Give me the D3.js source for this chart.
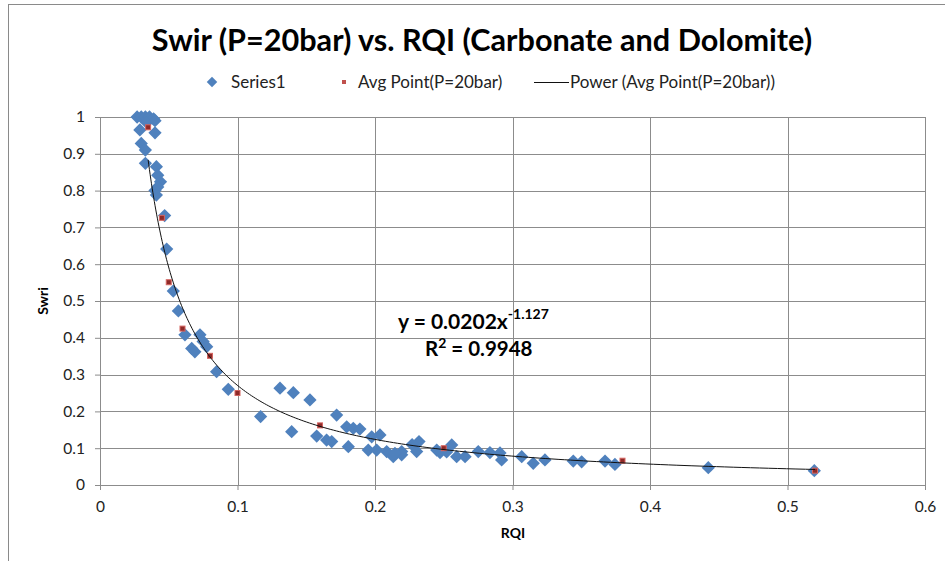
<!DOCTYPE html>
<html>
<head>
<meta charset="utf-8">
<script src="https://cdn.jsdelivr.net/npm/d3@7"></script>
<style>
  body { margin: 0; background: #fff; }
  svg { font-family: Lato, "Open Sans", sans-serif; }
</style>
</head>
<body>
<script>
// data: [RQI, Swri]
var series1 = [
  [0.027, 1.0], [0.030, 1.0], [0.033, 1.0], [0.036, 1.0], [0.039, 0.995],
  [0.034, 0.985], [0.040, 0.99], [0.029, 0.965], [0.040, 0.957], [0.030, 0.928],
  [0.033, 0.91], [0.033, 0.874], [0.041, 0.865], [0.042, 0.842], [0.044, 0.824],
  [0.042, 0.81], [0.040, 0.80], [0.041, 0.788], [0.047, 0.732], [0.0485, 0.641],
  [0.0533, 0.527], [0.057, 0.473], [0.0618, 0.408], [0.0727, 0.408], [0.0667, 0.371],
  [0.069, 0.362], [0.0776, 0.376], [0.075, 0.39], [0.0848, 0.308], [0.0933, 0.26],
  [0.1168, 0.186], [0.1309, 0.263], [0.1406, 0.251], [0.1527, 0.231], [0.1394, 0.145],
  [0.1721, 0.19], [0.1576, 0.133], [0.1648, 0.122], [0.1685, 0.118], [0.1794, 0.158],
  [0.1842, 0.154], [0.189, 0.152], [0.1806, 0.104], [0.1976, 0.131], [0.2036, 0.136],
  [0.1951, 0.095], [0.2012, 0.095], [0.2085, 0.091], [0.2133, 0.077], [0.2194, 0.091],
  [0.2194, 0.082], [0.232, 0.118], [0.227, 0.11], [0.2303, 0.091], [0.2449, 0.095],
  [0.2558, 0.109], [0.2521, 0.09], [0.2594, 0.077], [0.2655, 0.077], [0.2751, 0.091],
  [0.2836, 0.088], [0.2909, 0.087], [0.2921, 0.068], [0.2145, 0.086], [0.2473, 0.088],
  [0.3067, 0.077], [0.3151, 0.059], [0.3236, 0.068], [0.3442, 0.065], [0.3503, 0.063],
  [0.3673, 0.065], [0.3745, 0.056], [0.4424, 0.047], [0.5195, 0.039]
];
var avgPoints = [
  [0.035, 0.972], [0.045, 0.726], [0.05, 0.551], [0.06, 0.425], [0.08, 0.351],
  [0.1, 0.25], [0.16, 0.162], [0.25, 0.1], [0.38, 0.066], [0.52, 0.039]
];
// power trendline coefficients shown in the chart
var fitA = 0.0202, fitB = -1.127;
var xTicks = [0, 0.1, 0.2, 0.3, 0.4, 0.5, 0.6];
var yTicks = [0, 0.1, 0.2, 0.3, 0.4, 0.5, 0.6, 0.7, 0.8, 0.9, 1];
var legendLabels = ['Series1', 'Avg Point(P=20bar)', 'Power (Avg Point(P=20bar))'];

var W = 945, H = 561;
var grid = '#8c8c8c';

var svg = d3.select('body').append('svg')
    .attr('width', W)
    .attr('height', H);

// chart frame
svg.append('rect')
  .attr('x', 8.5).attr('y', 4.5)
  .attr('width', W).attr('height', H)
  .attr('fill', '#fff')
  .attr('stroke', '#8a8a8a');

var x = d3.scaleLinear().domain([0, 0.6]).range([100, 925]);
var y = d3.scaleLinear().domain([0, 1]).range([485, 117]);

// gridlines
svg.append('g').selectAll('line').data(yTicks.slice(1)).enter().append('line')
  .attr('x1', 100).attr('x2', 925)
  .attr('y1', function(d) { return Math.round(y(d)) + 0.5; })
  .attr('y2', function(d) { return Math.round(y(d)) + 0.5; })
  .attr('stroke', grid);
svg.append('g').selectAll('line').data(xTicks.slice(1)).enter().append('line')
  .attr('y1', 117).attr('y2', 485)
  .attr('x1', function(d) { return Math.round(x(d)) + 0.5; })
  .attr('x2', function(d) { return Math.round(x(d)) + 0.5; })
  .attr('stroke', grid);

// axes
var fmt = function(d) { return String(+d.toFixed(1)); };
var xAxis = d3.axisBottom(x).tickValues(xTicks).tickSize(5).tickPadding(11).tickFormat(fmt);
var yAxis = d3.axisLeft(y).tickValues(yTicks).tickSize(5).tickPadding(10).tickFormat(fmt);

var gx = svg.append('g').attr('transform', 'translate(0,485)').call(xAxis);
var gy = svg.append('g').attr('transform', 'translate(100,0)').call(yAxis);
[gx, gy].forEach(function(g) {
  g.selectAll('path,line').attr('stroke', grid);
  g.selectAll('text').attr('font-size', 15.5).attr('fill', '#222')
    .attr('font-family', 'Lato, sans-serif');
});

// Series1 diamonds
var diamond = d3.symbol().type(d3.symbolDiamond2).size(112);
svg.append('g').selectAll('path').data(series1).enter().append('path')
  .attr('d', diamond)
  .attr('transform', function(d) { return 'translate(' + x(d[0]) + ',' + y(d[1]) + ')'; })
  .attr('fill', '#4f81bd');

// average points
svg.append('g').selectAll('rect').data(avgPoints).enter().append('rect')
  .attr('x', function(d) { return x(d[0]) - 2.5; })
  .attr('y', function(d) { return y(d[1]) - 2.5; })
  .attr('width', 5).attr('height', 5)
  .attr('fill', '#8e2a28')
  .attr('stroke', '#d46561')
  .attr('stroke-width', 1);

// power trendline over the avg point range
var xr = d3.extent(avgPoints, function(d) { return d[0]; });
var trend = d3.range(0, 201).map(function(i) {
  var t = xr[0] * Math.pow(xr[1] / xr[0], i / 200);
  return [t, fitA * Math.pow(t, fitB)];
});
svg.append('path')
  .datum(trend)
  .attr('d', d3.line().x(function(d) { return x(d[0]); }).y(function(d) { return y(d[1]); }))
  .attr('fill', 'none')
  .attr('stroke', '#111')
  .attr('stroke-width', 1);

// title
svg.append('text')
  .attr('x', 482).attr('y', 51)
  .attr('text-anchor', 'middle')
  .attr('font-size', 30.6).attr('font-weight', 'bold')
  .text('Swir (P=20bar) vs. RQI (Carbonate and Dolomite)');

// legend
var leg = svg.append('g').attr('font-size', 17).attr('fill', '#222');
leg.append('path').attr('d', d3.symbol().type(d3.symbolDiamond2).size(70))
  .attr('transform', 'translate(212,82)').attr('fill', '#4f81bd');
leg.append('text').attr('x', 231).attr('y', 88).text(legendLabels[0]);
leg.append('rect').attr('x', 342).attr('y', 80).attr('width', 4).attr('height', 4)
  .attr('fill', '#c0504d');
leg.append('text').attr('x', 358).attr('y', 88).text(legendLabels[1]);
leg.append('line').attr('x1', 534).attr('x2', 569).attr('y1', 82.5).attr('y2', 82.5)
  .attr('stroke', '#111');
leg.append('text').attr('x', 570).attr('y', 88).text(legendLabels[2]);

// axis titles
svg.append('text')
  .attr('transform', 'translate(48,301) rotate(-90)')
  .attr('text-anchor', 'middle')
  .attr('font-size', 14).attr('font-weight', 'bold')
  .text('Swri');
svg.append('text')
  .attr('x', 513).attr('y', 538)
  .attr('text-anchor', 'middle')
  .attr('font-size', 14).attr('font-weight', 'bold')
  .text('RQI');

// equation label
var eq = svg.append('text')
  .attr('x', 398).attr('y', 329)
  .attr('font-size', 21).attr('font-weight', 'bold');
eq.append('tspan').text('y = ' + fitA + 'x');
eq.append('tspan').attr('dy', -10).attr('font-size', 14).text(String(fitB));
var r2 = svg.append('text')
  .attr('x', 425).attr('y', 356)
  .attr('font-size', 20.5).attr('font-weight', 'bold');
r2.append('tspan').text('R');
r2.append('tspan').attr('dy', -8).attr('font-size', 14).text('2');
r2.append('tspan').attr('dy', 8).text(' = 0.9948');
</script>
</body>
</html>
